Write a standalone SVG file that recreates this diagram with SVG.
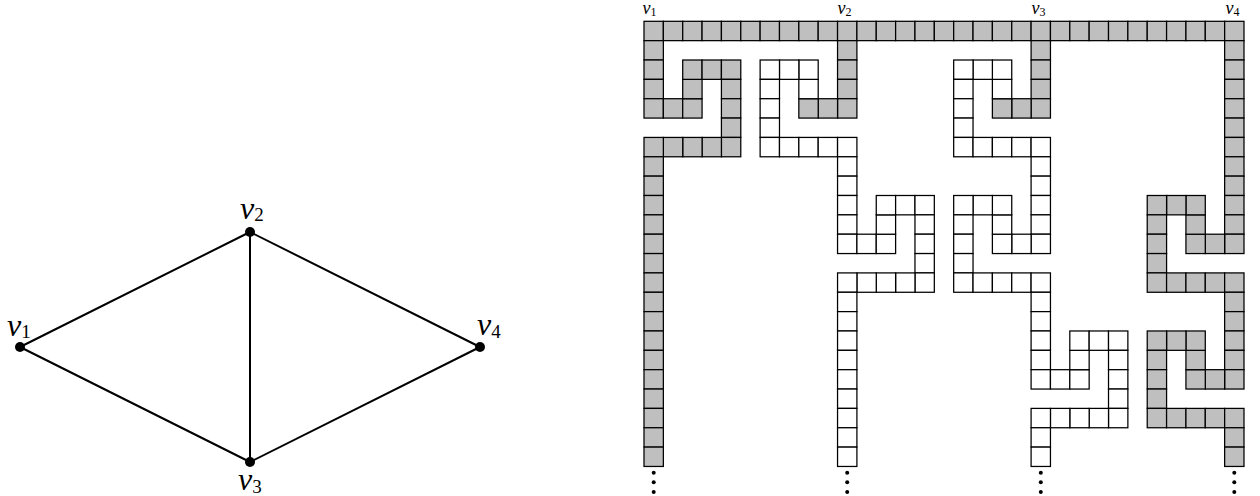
<svg xmlns="http://www.w3.org/2000/svg" xmlns:xlink="http://www.w3.org/1999/xlink" width="1260" height="496" viewBox="0 0 1260 496">
<style>
.lbl{font-family:"Liberation Serif","DejaVu Serif",serif;fill:#000}
.it{font-style:italic}
.edge{stroke:#000;stroke-width:2;fill:none}
.node{fill:#000}
.cells use{stroke:#000;stroke-width:0.065}
.g use{fill:#bfbfbf}
.w use{fill:#fff}
.dot{fill:#000}
</style>
<defs>
<rect id="c" width="1" height="1"/>
</defs>
<rect width="1260" height="496" fill="#fff"/>

<!-- Left graph -->
<g id="edges">
<line class="edge" x1="20" y1="347" x2="250" y2="232"/>
<line class="edge" x1="20" y1="347" x2="250" y2="462"/>
<line class="edge" x1="250" y1="232" x2="250" y2="462"/>
<line class="edge" x1="250" y1="232" x2="480" y2="347"/>
<line class="edge" x1="250" y1="462" x2="480" y2="347"/>
</g>
<g id="node-v1"><circle class="node" cx="20" cy="347" r="5"/><text class="lbl" x="7" y="335.5" font-size="32"><tspan class="it">v</tspan><tspan font-size="19" dy="2.5">1</tspan></text></g>
<g id="node-v2"><circle class="node" cx="250" cy="232" r="5"/><text class="lbl" x="240" y="218.5" font-size="32"><tspan class="it">v</tspan><tspan font-size="19" dy="2.5">2</tspan></text></g>
<g id="node-v3"><circle class="node" cx="250" cy="462" r="5"/><text class="lbl" x="238" y="490" font-size="32"><tspan class="it">v</tspan><tspan font-size="19" dy="2.5">3</tspan></text></g>
<g id="node-v4"><circle class="node" cx="480" cy="347" r="5"/><text class="lbl" x="477" y="335" font-size="32"><tspan class="it">v</tspan><tspan font-size="19" dy="2.5">4</tspan></text></g>

<!-- Right grid -->
<g id="grid" class="cells" transform="translate(644 21.3) scale(19.3548)">
<g id="top-row" class="g">
<use href="#c" x="0" y="0"/><use href="#c" x="1" y="0"/><use href="#c" x="2" y="0"/><use href="#c" x="3" y="0"/><use href="#c" x="4" y="0"/><use href="#c" x="5" y="0"/><use href="#c" x="6" y="0"/><use href="#c" x="7" y="0"/><use href="#c" x="8" y="0"/><use href="#c" x="9" y="0"/><use href="#c" x="10" y="0"/><use href="#c" x="11" y="0"/><use href="#c" x="12" y="0"/><use href="#c" x="13" y="0"/><use href="#c" x="14" y="0"/><use href="#c" x="15" y="0"/><use href="#c" x="16" y="0"/><use href="#c" x="17" y="0"/><use href="#c" x="18" y="0"/><use href="#c" x="19" y="0"/><use href="#c" x="20" y="0"/><use href="#c" x="21" y="0"/><use href="#c" x="22" y="0"/><use href="#c" x="23" y="0"/><use href="#c" x="24" y="0"/><use href="#c" x="25" y="0"/><use href="#c" x="26" y="0"/><use href="#c" x="27" y="0"/><use href="#c" x="28" y="0"/><use href="#c" x="29" y="0"/><use href="#c" x="30" y="0"/>
</g>
<g id="path-v1" class="g">
<use href="#c" x="0" y="1"/><use href="#c" x="0" y="2"/><use href="#c" x="0" y="3"/><use href="#c" x="0" y="4"/><use href="#c" x="1" y="4"/><use href="#c" x="2" y="4"/><use href="#c" x="2" y="3"/><use href="#c" x="2" y="2"/><use href="#c" x="3" y="2"/><use href="#c" x="4" y="2"/><use href="#c" x="4" y="3"/><use href="#c" x="4" y="4"/><use href="#c" x="4" y="5"/><use href="#c" x="4" y="6"/><use href="#c" x="3" y="6"/><use href="#c" x="2" y="6"/><use href="#c" x="1" y="6"/><use href="#c" x="0" y="6"/>
<use href="#c" x="0" y="7"/><use href="#c" x="0" y="8"/><use href="#c" x="0" y="9"/><use href="#c" x="0" y="10"/><use href="#c" x="0" y="11"/><use href="#c" x="0" y="12"/><use href="#c" x="0" y="13"/><use href="#c" x="0" y="14"/><use href="#c" x="0" y="15"/><use href="#c" x="0" y="16"/><use href="#c" x="0" y="17"/><use href="#c" x="0" y="18"/><use href="#c" x="0" y="19"/><use href="#c" x="0" y="20"/><use href="#c" x="0" y="21"/><use href="#c" x="0" y="22"/>
</g>
<g id="path-v2-gray" class="g">
<use href="#c" x="10" y="1"/><use href="#c" x="10" y="2"/><use href="#c" x="10" y="3"/><use href="#c" x="10" y="4"/><use href="#c" x="9" y="4"/><use href="#c" x="8" y="4"/>
</g>
<g id="path-v2-white" class="w">
<use href="#c" x="8" y="3"/><use href="#c" x="8" y="2"/><use href="#c" x="7" y="2"/><use href="#c" x="6" y="2"/><use href="#c" x="6" y="3"/><use href="#c" x="6" y="4"/><use href="#c" x="6" y="5"/><use href="#c" x="6" y="6"/><use href="#c" x="7" y="6"/><use href="#c" x="8" y="6"/><use href="#c" x="9" y="6"/><use href="#c" x="10" y="6"/>
<use href="#c" x="10" y="7"/><use href="#c" x="10" y="8"/><use href="#c" x="10" y="9"/><use href="#c" x="10" y="10"/><use href="#c" x="10" y="11"/><use href="#c" x="11" y="11"/><use href="#c" x="12" y="11"/><use href="#c" x="12" y="10"/><use href="#c" x="12" y="9"/><use href="#c" x="13" y="9"/><use href="#c" x="14" y="9"/><use href="#c" x="14" y="10"/><use href="#c" x="14" y="11"/><use href="#c" x="14" y="12"/><use href="#c" x="14" y="13"/><use href="#c" x="13" y="13"/><use href="#c" x="12" y="13"/><use href="#c" x="11" y="13"/><use href="#c" x="10" y="13"/>
<use href="#c" x="10" y="14"/><use href="#c" x="10" y="15"/><use href="#c" x="10" y="16"/><use href="#c" x="10" y="17"/><use href="#c" x="10" y="18"/><use href="#c" x="10" y="19"/><use href="#c" x="10" y="20"/><use href="#c" x="10" y="21"/><use href="#c" x="10" y="22"/>
</g>
<g id="path-v3-gray" class="g">
<use href="#c" x="20" y="1"/><use href="#c" x="20" y="2"/><use href="#c" x="20" y="3"/><use href="#c" x="20" y="4"/><use href="#c" x="19" y="4"/><use href="#c" x="18" y="4"/>
</g>
<g id="path-v3-white" class="w">
<use href="#c" x="18" y="3"/><use href="#c" x="18" y="2"/><use href="#c" x="17" y="2"/><use href="#c" x="16" y="2"/><use href="#c" x="16" y="3"/><use href="#c" x="16" y="4"/><use href="#c" x="16" y="5"/><use href="#c" x="16" y="6"/><use href="#c" x="17" y="6"/><use href="#c" x="18" y="6"/><use href="#c" x="19" y="6"/><use href="#c" x="20" y="6"/>
<use href="#c" x="20" y="7"/><use href="#c" x="20" y="8"/><use href="#c" x="20" y="9"/><use href="#c" x="20" y="10"/><use href="#c" x="20" y="11"/><use href="#c" x="19" y="11"/><use href="#c" x="18" y="11"/><use href="#c" x="18" y="10"/><use href="#c" x="18" y="9"/><use href="#c" x="17" y="9"/><use href="#c" x="16" y="9"/><use href="#c" x="16" y="10"/><use href="#c" x="16" y="11"/><use href="#c" x="16" y="12"/><use href="#c" x="16" y="13"/><use href="#c" x="17" y="13"/><use href="#c" x="18" y="13"/><use href="#c" x="19" y="13"/><use href="#c" x="20" y="13"/>
<use href="#c" x="20" y="14"/><use href="#c" x="20" y="15"/><use href="#c" x="20" y="16"/><use href="#c" x="20" y="17"/><use href="#c" x="20" y="18"/><use href="#c" x="21" y="18"/><use href="#c" x="22" y="18"/><use href="#c" x="22" y="17"/><use href="#c" x="22" y="16"/><use href="#c" x="23" y="16"/><use href="#c" x="24" y="16"/><use href="#c" x="24" y="17"/><use href="#c" x="24" y="18"/><use href="#c" x="24" y="19"/><use href="#c" x="24" y="20"/><use href="#c" x="23" y="20"/><use href="#c" x="22" y="20"/><use href="#c" x="21" y="20"/><use href="#c" x="20" y="20"/>
<use href="#c" x="20" y="21"/><use href="#c" x="20" y="22"/>
</g>
<g id="path-v4" class="g">
<use href="#c" x="30" y="1"/><use href="#c" x="30" y="2"/><use href="#c" x="30" y="3"/><use href="#c" x="30" y="4"/><use href="#c" x="30" y="5"/><use href="#c" x="30" y="6"/><use href="#c" x="30" y="7"/><use href="#c" x="30" y="8"/><use href="#c" x="30" y="9"/><use href="#c" x="30" y="10"/><use href="#c" x="30" y="11"/>
<use href="#c" x="29" y="11"/><use href="#c" x="28" y="11"/><use href="#c" x="28" y="10"/><use href="#c" x="28" y="9"/><use href="#c" x="27" y="9"/><use href="#c" x="26" y="9"/><use href="#c" x="26" y="10"/><use href="#c" x="26" y="11"/><use href="#c" x="26" y="12"/><use href="#c" x="26" y="13"/><use href="#c" x="27" y="13"/><use href="#c" x="28" y="13"/><use href="#c" x="29" y="13"/><use href="#c" x="30" y="13"/>
<use href="#c" x="30" y="14"/><use href="#c" x="30" y="15"/><use href="#c" x="30" y="16"/><use href="#c" x="30" y="17"/><use href="#c" x="30" y="18"/><use href="#c" x="29" y="18"/><use href="#c" x="28" y="18"/><use href="#c" x="28" y="17"/><use href="#c" x="28" y="16"/><use href="#c" x="27" y="16"/><use href="#c" x="26" y="16"/><use href="#c" x="26" y="17"/><use href="#c" x="26" y="18"/><use href="#c" x="26" y="19"/><use href="#c" x="26" y="20"/><use href="#c" x="27" y="20"/><use href="#c" x="28" y="20"/><use href="#c" x="29" y="20"/><use href="#c" x="30" y="20"/>
<use href="#c" x="30" y="21"/><use href="#c" x="30" y="22"/>
</g>
</g>

<g id="grid-labels">
<text class="lbl" x="642.5" y="14" font-size="18"><tspan class="it">v</tspan><tspan font-size="12" dy="2">1</tspan></text>
<text class="lbl" x="837.5" y="14" font-size="18"><tspan class="it">v</tspan><tspan font-size="12" dy="2">2</tspan></text>
<text class="lbl" x="1031.5" y="14" font-size="18"><tspan class="it">v</tspan><tspan font-size="12" dy="2">3</tspan></text>
<text class="lbl" x="1225.5" y="14" font-size="18"><tspan class="it">v</tspan><tspan font-size="12" dy="2">4</tspan></text>
</g>

<g id="ellipses">
<circle class="dot" cx="653.7" cy="472.7" r="2"/><circle class="dot" cx="653.7" cy="482.3" r="2"/><circle class="dot" cx="653.7" cy="492" r="2"/>
<circle class="dot" cx="847.2" cy="472.7" r="2"/><circle class="dot" cx="847.2" cy="482.3" r="2"/><circle class="dot" cx="847.2" cy="492" r="2"/>
<circle class="dot" cx="1040.8" cy="472.7" r="2"/><circle class="dot" cx="1040.8" cy="482.3" r="2"/><circle class="dot" cx="1040.8" cy="492" r="2"/>
<circle class="dot" cx="1234.3" cy="472.7" r="2"/><circle class="dot" cx="1234.3" cy="482.3" r="2"/><circle class="dot" cx="1234.3" cy="492" r="2"/>
</g>
</svg>
